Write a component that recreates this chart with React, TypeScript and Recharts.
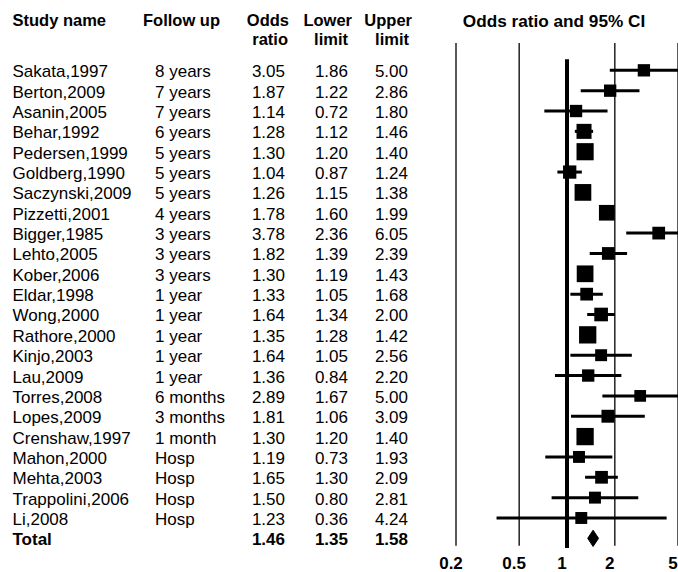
import React from "react";
import {
  ScatterChart,
  Scatter,
  XAxis,
  YAxis,
  ErrorBar,
  ReferenceLine,
} from "recharts";

const studies = [
  "Sakata,1997", "Berton,2009", "Asanin,2005", "Behar,1992", "Pedersen,1999",
  "Goldberg,1990", "Saczynski,2009", "Pizzetti,2001", "Bigger,1985", "Lehto,2005",
  "Kober,2006", "Eldar,1998", "Wong,2000", "Rathore,2000", "Kinjo,2003",
  "Lau,2009", "Torres,2008", "Lopes,2009", "Crenshaw,1997", "Mahon,2000",
  "Mehta,2003", "Trappolini,2006", "Li,2008",
];
const followUp = [
  "8 years", "7 years", "7 years", "6 years", "5 years", "5 years", "5 years",
  "4 years", "3 years", "3 years", "3 years", "1 year", "1 year", "1 year",
  "1 year", "1 year", "6 months", "3 months", "1 month", "Hosp", "Hosp", "Hosp", "Hosp",
];
const oddsRatio = [
  3.05, 1.87, 1.14, 1.28, 1.30, 1.04, 1.26, 1.78, 3.78, 1.82, 1.30, 1.33,
  1.64, 1.35, 1.64, 1.36, 2.89, 1.81, 1.30, 1.19, 1.65, 1.50, 1.23,
];
const lowerLimit = [
  1.86, 1.22, 0.72, 1.12, 1.20, 0.87, 1.15, 1.60, 2.36, 1.39, 1.19, 1.05,
  1.34, 1.28, 1.05, 0.84, 1.67, 1.06, 1.20, 0.73, 1.30, 0.80, 0.36,
];
const upperLimit = [
  5.00, 2.86, 1.80, 1.46, 1.40, 1.24, 1.38, 1.99, 6.05, 2.39, 1.43, 1.68,
  2.00, 1.42, 2.56, 2.20, 5.00, 3.09, 1.40, 1.93, 2.09, 2.81, 4.24,
];
// relative weights (estimated from square sizes)
const weights = [
  3.1, 3.1, 3.1, 4.6, 6.0, 3.6, 5.7, 5.0, 3.3, 3.3, 5.7, 3.3,
  3.8, 6.1, 2.9, 3.1, 2.8, 3.4, 6.1, 2.9, 3.3, 2.9, 2.9,
];
const totalOdds = 1.46;
const totalLower = 1.35;
const totalUpper = 1.58;
const axisTicks = [0.2, 0.5, 1, 2, 5];

const TOTAL_ROW = studies.length;
const rowTicks = [...studies.map((_, i) => i), TOTAL_ROW];

const studyData = studies.map((name, i) => ({
  name,
  x: oddsRatio[i],
  y: i,
  err: [oddsRatio[i] - lowerLimit[i], upperLimit[i] - oddsRatio[i]],
  w: weights[i],
}));

const DIAMOND_HALF = 0.4;
const diamondData = [
  { x: totalLower, y: TOTAL_ROW },
  { x: totalOdds, y: TOTAL_ROW - DIAMOND_HALF },
  { x: totalUpper, y: TOTAL_ROW },
  { x: totalOdds, y: TOTAL_ROW + DIAMOND_HALF },
  { x: totalLower, y: TOTAL_ROW },
];

const FONT = '"Liberation Sans", Arial, sans-serif';
const FS = 17;
const HFS = 16.5;
const COL = { name: 12.5, follow: 155, or: 285, lower: 348, upper: 408 };

const fmt = (v: number) => v.toFixed(2);

function RowTick(props: any) {
  const { y, payload } = props;
  const i = payload.value as number;
  const by = y + 7;
  const isTotal = i === TOTAL_ROW;
  const fw = isTotal ? "bold" : "normal";
  const vals = isTotal
    ? [totalOdds, totalLower, totalUpper]
    : [oddsRatio[i], lowerLimit[i], upperLimit[i]];
  return (
    <g fontFamily={FONT} fontSize={FS} fill="#000" fontWeight={fw}>
      <text x={COL.name} y={by}>{isTotal ? "Total" : studies[i]}</text>
      {!isTotal && <text x={COL.follow} y={by}>{followUp[i]}</text>}
      <text x={COL.or} y={by} textAnchor="end">{fmt(vals[0])}</text>
      <text x={COL.lower} y={by} textAnchor="end">{fmt(vals[1])}</text>
      <text x={COL.upper} y={by} textAnchor="end">{fmt(vals[2])}</text>
    </g>
  );
}

function AxisTick(props: any) {
  const { x, y, payload } = props;
  return (
    <text x={x - 5} y={y + 20} textAnchor="middle" fontFamily={FONT} fontSize={17} fontWeight="bold" fill="#000">
      {String(payload.value)}
    </text>
  );
}

function Square(props: any) {
  const { cx, cy, payload } = props;
  const s = 7 * Math.sqrt(payload.w);
  return <rect x={cx - s / 2} y={cy - s / 2} width={s} height={s} fill="#000" />;
}

function Headers() {
  const b = { fontFamily: FONT, fontSize: HFS, fontWeight: "bold" as const, fill: "#000" };
  const y1 = 25.5;
  const y2 = 44.5;
  return (
    <svg width={678} height={60} style={{ position: "absolute", left: 0, top: 0, pointerEvents: "none" }}>
      <text x={12.5} y={y1} {...b}>Study name</text>
      <text x={143} y={y1} {...b}>Follow up</text>
      <text x={289} y={y1} textAnchor="end" {...b}>Odds</text>
      <text x={288} y={y2} textAnchor="end" {...b}>ratio</text>
      <text x={352} y={y1} textAnchor="end" {...b}>Lower</text>
      <text x={348} y={y2} textAnchor="end" {...b}>limit</text>
      <text x={412} y={y1} textAnchor="end" {...b}>Upper</text>
      <text x={409} y={y2} textAnchor="end" {...b}>limit</text>
      <text x={554} y={26.5} textAnchor="middle" {...b} fontSize={17.2}>Odds ratio and 95% CI</text>
    </svg>
  );
}

export default function App() {
  return (
    <div style={{ position: "absolute", left: 0, top: 0, width: 678, height: 572, background: "#fff" }}>
      <ScatterChart width={678} height={572} margin={{ top: 39.8, right: 0, bottom: 0, left: 0 }}>
        <XAxis
          type="number"
          dataKey="x"
          scale="log"
          domain={[0.2, 5]}
          allowDataOverflow
          ticks={axisTicks}
          axisLine={false}
          tickLine={false}
          tickSize={0}
          tickMargin={0}
          height={23.5}
          interval={0}
          tick={<AxisTick />}
        />
        <YAxis
          type="number"
          dataKey="y"
          reversed
          domain={[-1.5, TOTAL_ROW + 0.5]}
          ticks={rowTicks}
          interval={0}
          width={456}
          axisLine={false}
          tickLine={false}
          tick={<RowTick />}
        />
        {[0.2, 0.5, 2, 5].map((v) => (
          <ReferenceLine
            key={v}
            segment={[{ x: v, y: -1.34 }, { x: v, y: 23.36 }]}
            stroke="#222"
            strokeWidth={1.5}
            ifOverflow="visible"
          />
        ))}
        <ReferenceLine
          segment={[{ x: 1, y: -0.55 }, { x: 1, y: 23.47 }]}
          stroke="#000"
          strokeWidth={4}
          ifOverflow="visible"
        />
        <Scatter data={studyData} shape={<Square />} isAnimationActive={false}>
          <ErrorBar dataKey="err" direction="x" width={0} strokeWidth={3} stroke="#000" isAnimationActive={false} />
        </Scatter>
        <Scatter
          data={diamondData}
          shape={() => <g />}
          line={{ stroke: "#000", strokeWidth: 1, fill: "#000" }}
          lineType="joint"
          isAnimationActive={false}
        />
      </ScatterChart>
      <Headers />
    </div>
  );
}
